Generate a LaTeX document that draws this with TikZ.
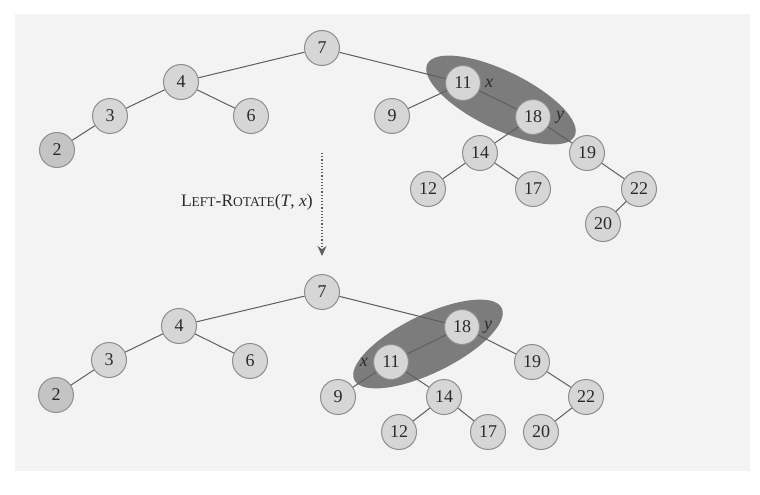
\documentclass[tikz,border=0pt]{standalone}
\usepackage{fontspec}
\setmainfont{Liberation Serif}
\usetikzlibrary{arrows.meta,positioning}
\definecolor{bggray}{HTML}{F3F3F3}
\definecolor{nodegray}{HTML}{D6D6D6}
\definecolor{darknode}{HTML}{C4C4C4}
\definecolor{edgegray}{HTML}{5E5E5E}
\definecolor{hlgray}{HTML}{7C7C7C}
\definecolor{textgray}{HTML}{2A2A2A}
\newcommand{\fakesc}[2]{#1{\fontsize{13.5}{13.5}\selectfont #2}}

\begin{document}
\begin{tikzpicture}[x=1pt,y=-1pt]
		\tikzstyle{vertex}=[circle, draw=edgegray!70, fill=nodegray, line width=1pt, minimum size=35pt, inner sep=0pt, font=\fontsize{18}{18}\selectfont, text=textgray]
		\tikzstyle{tree edge}=[draw=edgegray, line width=1pt]
		\tikzstyle{pointer}=[inner sep=0pt, font=\fontsize{18}{18}\selectfont\itshape, text=textgray]
		\useasboundingbox (0,0) rectangle (760,495);
		\fill [bggray] (15,14) rectangle (750,471);
		% highlighted pair before and after the rotation
		\fill [hlgray, rotate around={-26:(501,100)}] (501,100) ellipse (82 and 29);
		\fill [hlgray, rotate around={26:(428,344)}] (428,344) ellipse (82 and 29);
		% tree before
		\node [vertex] (t7) at (322,48) {7};
		\node [vertex] (t4) at (181,82) {4};
		\node [vertex] (t3) at (110,116) {3};
		\node [vertex] (t6) at (251,116) {6};
		\node [vertex, fill=darknode] (t2) at (57,150) {2};
		\node [vertex] (t11) at (463,83) {11};
		\node [vertex] (t9) at (392,116) {9};
		\node [vertex] (t18) at (533,117) {18};
		\node [vertex] (t14) at (480,153) {14};
		\node [vertex] (t19) at (587,153) {19};
		\node [vertex] (t12) at (428,189) {12};
		\node [vertex] (t17) at (533,189) {17};
		\node [vertex] (t22) at (639,189) {22};
		\node [vertex] (t20) at (603,224) {20};
		\node [pointer, right=4pt of t11] (tx) {x};
		\node [pointer, right=5pt of t18] (ty) {y};
		\draw [tree edge] (t7) -- (t4);
		\draw [tree edge] (t4) -- (t3);
		\draw [tree edge] (t3) -- (t2);
		\draw [tree edge] (t4) -- (t6);
		\draw [tree edge] (t7) -- (t11);
		\draw [tree edge] (t11) -- (t9);
		\draw [tree edge] (t11) -- (t18);
		\draw [tree edge] (t18) -- (t14);
		\draw [tree edge] (t14) -- (t12);
		\draw [tree edge] (t14) -- (t17);
		\draw [tree edge] (t18) -- (t19);
		\draw [tree edge] (t19) -- (t22);
		\draw [tree edge] (t22) -- (t20);
		% the rotation
		\coordinate (rtop) at (322,153);
		\coordinate (rbot) at (322,256);
		\draw [edgegray, dotted, line width=1.2pt, -{Stealth[length=10pt,width=9pt]}] (rtop) -- (rbot);
		\node [anchor=east, inner sep=0pt, text=textgray, font=\fontsize{17.5}{17.5}\selectfont] (rot) at (313,202) {\fakesc{L}{EFT}-\fakesc{R}{OTATE}(\textit{T}, \textit{x})};
		% tree after
		\node [vertex] (b7) at (322,292) {7};
		\node [vertex] (b4) at (179,326) {4};
		\node [vertex] (b3) at (109,360) {3};
		\node [vertex] (b6) at (250,361) {6};
		\node [vertex, fill=darknode] (b2) at (56,395) {2};
		\node [vertex] (b18) at (462,327) {18};
		\node [vertex] (b11) at (391,362) {11};
		\node [vertex] (b9) at (338,397) {9};
		\node [vertex] (b14) at (444,397) {14};
		\node [vertex] (b19) at (532,362) {19};
		\node [vertex] (b22) at (586,397) {22};
		\node [vertex] (b12) at (399,432) {12};
		\node [vertex] (b17) at (488,432) {17};
		\node [vertex] (b20) at (541,432) {20};
		\node [pointer, left=5pt of b11] (bx) {x};
		\node [pointer, right=4pt of b18] (by) {y};
		\draw [tree edge] (b7) -- (b4);
		\draw [tree edge] (b4) -- (b3);
		\draw [tree edge] (b3) -- (b2);
		\draw [tree edge] (b4) -- (b6);
		\draw [tree edge] (b7) -- (b18);
		\draw [tree edge] (b18) -- (b11);
		\draw [tree edge] (b11) -- (b9);
		\draw [tree edge] (b11) -- (b14);
		\draw [tree edge] (b14) -- (b12);
		\draw [tree edge] (b14) -- (b17);
		\draw [tree edge] (b18) -- (b19);
		\draw [tree edge] (b19) -- (b22);
		\draw [tree edge] (b22) -- (b20);
\end{tikzpicture}
\end{document}
